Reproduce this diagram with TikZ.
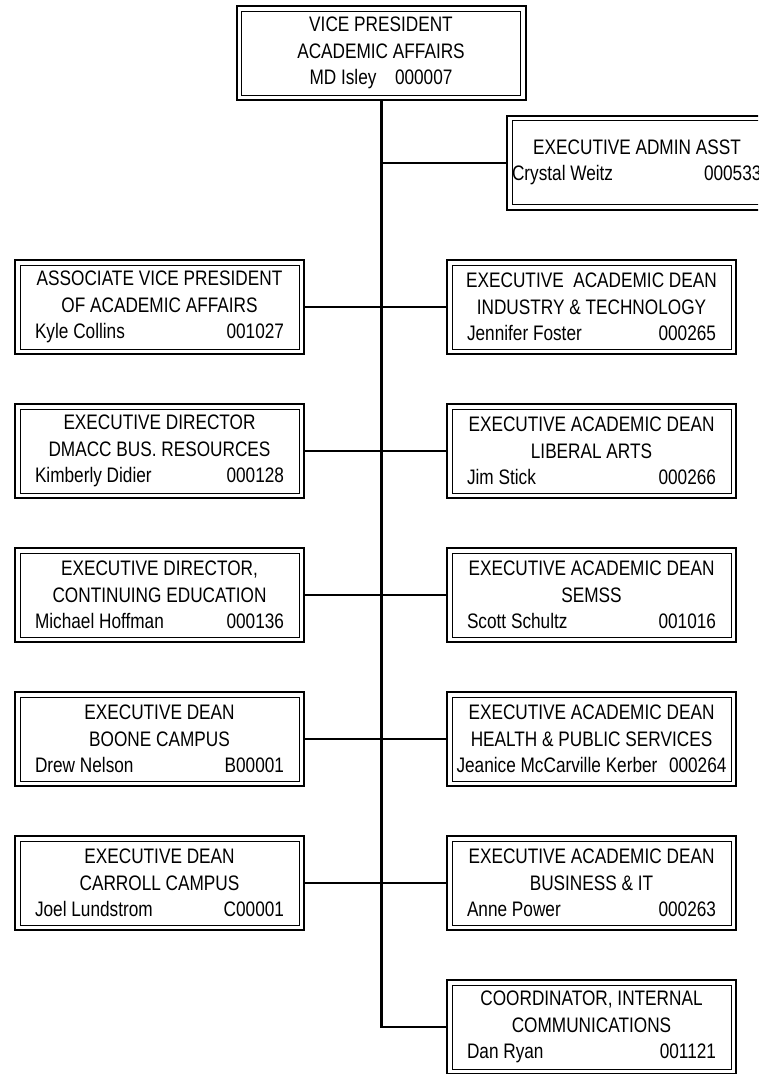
\documentclass[tikz,border=0pt]{standalone}
\usepackage{fontspec}
\setmainfont{Liberation Sans}[FakeStretch=0.82]
\begin{document}
\begin{tikzpicture}[x=1pt,y=-1pt,
  box/.style={draw, line width=2pt, minimum width=289pt, minimum height=94pt,
    inner sep=0pt, align=center, font=\fontsize{21}{26.5}\selectfont,
    path picture={\draw[line width=1pt]
      ([shift={(5pt,-5pt)}]path picture bounding box.north west) rectangle
      ([shift={(-5pt,5pt)}]path picture bounding box.south east);}},
  trunk/.style={line width=3pt},
  branch/.style={line width=2pt}]
\useasboundingbox (0,0) rectangle (758,1074);
\clip (0,0) rectangle (758,1074);
\fill[white] (0,0) rectangle (758,1074);
\newcommand{\bottomline}[2]{\makebox[249pt]{#1\hfill #2}}
% top
\node[box] (vp) at (381,53) {VICE PRESIDENT\\ACADEMIC AFFAIRS\\\makebox[143pt]{MD Isley\hfill 000007}};
\node[box, minimum width=300pt] (eaa) at (657,162.5) {\makebox[300pt][l]{\hspace{5pt}\makebox[250pt]{EXECUTIVE ADMIN ASST}}\\
  \makebox[300pt][l]{\hspace{5pt}\makebox[192pt][l]{Crystal Weitz}000533}};
% left column
\node[box] (avp) at (159.5,307) {ASSOCIATE VICE PRESIDENT\\OF ACADEMIC AFFAIRS\\\bottomline{Kyle Collins}{001027}};
\node[box] (edbr) at (159.5,451) {EXECUTIVE DIRECTOR\\DMACC BUS. RESOURCES\\\bottomline{Kimberly Didier}{000128}};
\node[box] (edce) at (159.5,595) {EXECUTIVE DIRECTOR,\\CONTINUING EDUCATION\\\bottomline{Michael Hoffman}{000136}};
\node[box] (edbc) at (159.5,739) {EXECUTIVE DEAN\\BOONE CAMPUS\\\bottomline{Drew Nelson}{B00001}};
\node[box] (edcc) at (159.5,883) {EXECUTIVE DEAN\\CARROLL CAMPUS\\\bottomline{Joel Lundstrom}{C00001}};
% right column
\node[box] (eit) at (591.5,307) {EXECUTIVE\ \ ACADEMIC DEAN\\INDUSTRY \& TECHNOLOGY\\\bottomline{Jennifer Foster}{000265}};
\node[box] (ela) at (591.5,451) {EXECUTIVE ACADEMIC DEAN\\LIBERAL ARTS\\\bottomline{Jim Stick}{000266}};
\node[box] (esm) at (591.5,595) {EXECUTIVE ACADEMIC DEAN\\SEMSS\\\bottomline{Scott Schultz}{001016}};
\node[box] (ehp) at (591.5,739) {EXECUTIVE ACADEMIC DEAN\\HEALTH \& PUBLIC SERVICES\\\makebox[270pt]{Jeanice McCarville Kerber\hfill 000264}};
\node[box] (ebi) at (591.5,883) {EXECUTIVE ACADEMIC DEAN\\BUSINESS \& IT\\\bottomline{Anne Power}{000263}};
\node[box] (cic) at (591.5,1027) {COORDINATOR, INTERNAL\\COMMUNICATIONS\\\bottomline{Dan Ryan}{001121}};
% connectors
\coordinate (bend) at (vp.south |- cic.west);
\draw[trunk] (vp.south) -- (bend);
\draw[branch, line cap=rect] (bend) -- (cic.west);
\draw[branch] (vp.south |- eaa.west) -- (eaa.west);
\foreach \n in {avp,edbr,edce,edbc,edcc}
  \draw[branch] (\n.east) -- (vp.south |- \n.east);
\foreach \n in {eit,ela,esm,ehp,ebi}
  \draw[branch] (vp.south |- \n.west) -- (\n.west);
\end{tikzpicture}
\end{document}
